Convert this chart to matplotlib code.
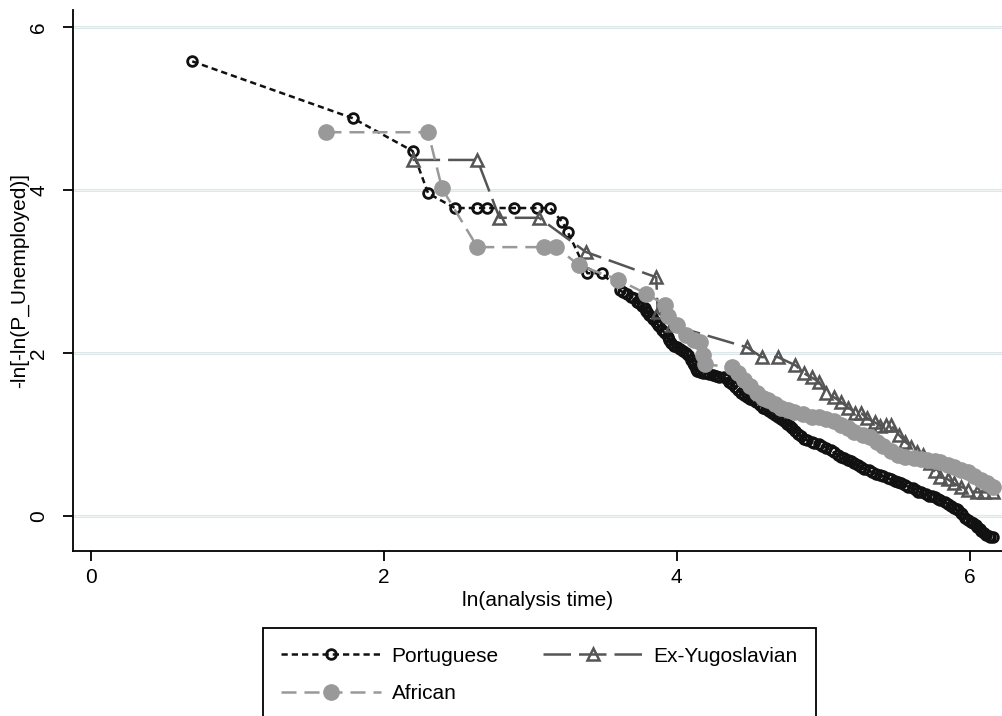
import matplotlib
matplotlib.use("Agg")
import matplotlib.pyplot as plt

plt.rcParams["font.family"] = ["Liberation Sans", "DejaVu Sans"]

# ln(analysis time), -ln[-ln(S)]
port_x = [0.693, 1.792, 2.197, 2.303, 2.485, 2.639, 2.708, 2.890, 3.045, 3.135, 3.219, 3.258,
          3.39, 3.49, 3.61, 3.63, 3.66, 3.69, 3.71, 3.73, 3.74, 3.76, 3.78, 3.79, 3.80, 3.81,
          3.83, 3.84, 3.86, 3.87, 3.88, 3.90, 3.91, 3.92, 3.94, 3.95, 3.96, 3.98,
          4.00, 4.02, 4.04, 4.06, 4.08, 4.10, 4.11, 4.12, 4.13, 4.14, 4.16, 4.18, 4.20, 4.22,
          4.25, 4.27, 4.29, 4.32, 4.34, 4.36, 4.38, 4.40, 4.42, 4.44, 4.46, 4.48, 4.50, 4.52,
          4.54, 4.57, 4.59, 4.61, 4.63, 4.65, 4.67, 4.69, 4.71, 4.73, 4.75, 4.77, 4.79, 4.81,
          4.83, 4.85, 4.87, 4.89, 4.92, 4.94, 4.97, 4.99, 5.02, 5.05, 5.07, 5.10, 5.12, 5.14,
          5.17, 5.19, 5.21, 5.24, 5.26, 5.28, 5.31, 5.33, 5.36, 5.39, 5.41, 5.44, 5.46, 5.49,
          5.51, 5.53, 5.56, 5.58, 5.61, 5.63, 5.65, 5.67, 5.70, 5.72, 5.74, 5.76, 5.78, 5.80,
          5.83, 5.85, 5.87, 5.89, 5.91, 5.92, 5.94, 5.95, 5.97, 5.99, 6.01, 6.02, 6.04, 6.05,
          6.07, 6.08, 6.10, 6.11, 6.13, 6.14, 6.16]
port_y = [5.58, 4.88, 4.48, 3.96, 3.78, 3.78, 3.78, 3.78, 3.78, 3.78, 3.61, 3.48,
          2.98, 2.98, 2.77, 2.75, 2.72, 2.69, 2.67, 2.63, 2.61, 2.58, 2.55, 2.52, 2.50, 2.47,
          2.44, 2.42, 2.38, 2.35, 2.33, 2.28, 2.26, 2.24, 2.20, 2.16, 2.12, 2.09,
          2.07, 2.05, 2.02, 2.00, 1.98, 1.92, 1.88, 1.85, 1.81, 1.78, 1.77, 1.76, 1.75, 1.74,
          1.73, 1.72, 1.71, 1.70, 1.68, 1.65, 1.62, 1.58, 1.55, 1.51, 1.48, 1.46, 1.44, 1.42,
          1.40, 1.36, 1.33, 1.31, 1.29, 1.27, 1.24, 1.22, 1.19, 1.16, 1.13, 1.11, 1.08, 1.04,
          1.01, 0.98, 0.95, 0.93, 0.91, 0.90, 0.88, 0.86, 0.84, 0.81, 0.78, 0.75, 0.73, 0.71,
          0.69, 0.67, 0.65, 0.62, 0.60, 0.58, 0.56, 0.54, 0.52, 0.50, 0.49, 0.47, 0.45, 0.43,
          0.42, 0.40, 0.38, 0.36, 0.34, 0.32, 0.30, 0.29, 0.27, 0.25, 0.24, 0.23, 0.21, 0.20,
          0.17, 0.15, 0.12, 0.10, 0.08, 0.07, 0.04, 0.02, -0.02, -0.05, -0.07, -0.09, -0.11, -0.13,
          -0.16, -0.18, -0.21, -0.23, -0.25, -0.26, -0.26]

yugo_x = [2.197, 2.639, 2.79, 3.06, 3.38, 3.86, 3.87, 3.97, 4.48, 4.58, 4.69, 4.81, 4.87,
          4.92, 4.97, 5.02, 5.07, 5.12, 5.17, 5.22, 5.26, 5.30, 5.35, 5.39, 5.43, 5.46, 5.52,
          5.56, 5.60, 5.64, 5.68, 5.73, 5.76, 5.80, 5.85, 5.89, 5.94, 5.99, 6.05, 6.10, 6.16]
yugo_y = [4.37, 4.37, 3.66, 3.66, 3.24, 2.93, 2.50, 2.34, 2.07, 1.95, 1.95, 1.85, 1.75,
          1.70, 1.65, 1.51, 1.46, 1.40, 1.33, 1.27, 1.26, 1.20, 1.15, 1.11, 1.12, 1.12, 0.99,
          0.91, 0.85, 0.79, 0.75, 0.65, 0.55, 0.48, 0.45, 0.40, 0.36, 0.32, 0.29, 0.29, 0.29]

afr_x = [1.609, 2.303, 2.398, 2.639, 3.091, 3.178, 3.33, 3.60, 3.79, 3.92, 3.94, 4.00, 4.06,
         4.12, 4.16, 4.18, 4.19, 4.38, 4.42, 4.46, 4.50, 4.55, 4.59, 4.62, 4.67, 4.71, 4.76,
         4.80, 4.86, 4.92, 4.97, 5.02, 5.07, 5.12, 5.17, 5.21, 5.27, 5.32, 5.37, 5.41, 5.46,
         5.51, 5.56, 5.62, 5.67, 5.71, 5.76, 5.80, 5.85, 5.89, 5.94, 5.99, 6.03, 6.08, 6.12, 6.16]
afr_y = [4.71, 4.71, 4.02, 3.30, 3.30, 3.30, 3.08, 2.90, 2.73, 2.59, 2.45, 2.35, 2.22,
         2.16, 2.14, 1.98, 1.86, 1.83, 1.75, 1.67, 1.60, 1.51, 1.45, 1.42, 1.37, 1.33, 1.30,
         1.28, 1.25, 1.22, 1.21, 1.19, 1.16, 1.12, 1.08, 1.03, 1.00, 0.97, 0.91, 0.86, 0.80,
         0.75, 0.73, 0.71, 0.70, 0.69, 0.68, 0.66, 0.63, 0.60, 0.57, 0.54, 0.49, 0.44, 0.40, 0.36]

fig = plt.figure(figsize=(10.02, 7.16), dpi=100)
ax = fig.add_axes([0.073, 0.2304, 0.927, 0.7556])

for yv in [0, 2, 4, 6]:
    ax.axhline(yv, color="#dde6e9", lw=2.2, zorder=0)
    ax.axhline(yv, color="#f4f8f9", lw=0.6, zorder=0)

p1, = ax.plot(port_x, port_y, color="#111111", lw=1.8, dashes=(2.5, 1.6),
              marker="o", ms=7, mfc="none", mec="#111111", mew=2.0, label="Portuguese")
p2, = ax.plot(yugo_x, yugo_y, color="#555555", lw=1.8, dashes=(11, 3.2),
              marker="^", ms=9, mfc="none", mec="#555555", mew=1.8, label="Ex-Yugoslavian")
p3, = ax.plot(afr_x, afr_y, color="#999999", lw=1.8, dashes=(6, 3.2),
              marker="o", ms=11, mfc="#999999", mec="#999999", label="African")

ax.set_xlim(-0.12, 6.22)
ax.set_ylim(-0.43, 6.21)
ax.set_xticks([0, 2, 4, 6])
ax.set_yticks([0, 2, 4, 6])
ax.spines["top"].set_visible(False)
ax.spines["right"].set_visible(False)
ax.spines["left"].set_linewidth(1.3)
ax.spines["bottom"].set_linewidth(1.3)
ax.tick_params(axis="both", length=7, width=1.3, labelsize=15)
ax.tick_params(axis="y", labelrotation=90, pad=11)
ax.tick_params(axis="x", pad=5)
for lab in ax.get_yticklabels():
    lab.set_va("center")
ax.set_xlabel("ln(analysis time)", fontsize=15, labelpad=3)
ax.set_ylabel("-ln[-ln(P_Unemployed)]", fontsize=15, labelpad=0)

# column-major fill: Portuguese / Ex-Yugoslavian on row one, African below
leg = fig.legend([p1, p3, p2], ["Portuguese", "African", "Ex-Yugoslavian"],
                 loc="upper left", bbox_to_anchor=(0.262, 0.123), ncol=2,
                 fontsize=15, numpoints=1, handlelength=4.8, columnspacing=2.1,
                 labelspacing=0.9, fancybox=False, framealpha=1, borderaxespad=0,
                 borderpad=0.9, handletextpad=0.5)
leg.get_frame().set_edgecolor("black")
leg.get_frame().set_linewidth(1.3)

fig.savefig("out.png", dpi=100)
